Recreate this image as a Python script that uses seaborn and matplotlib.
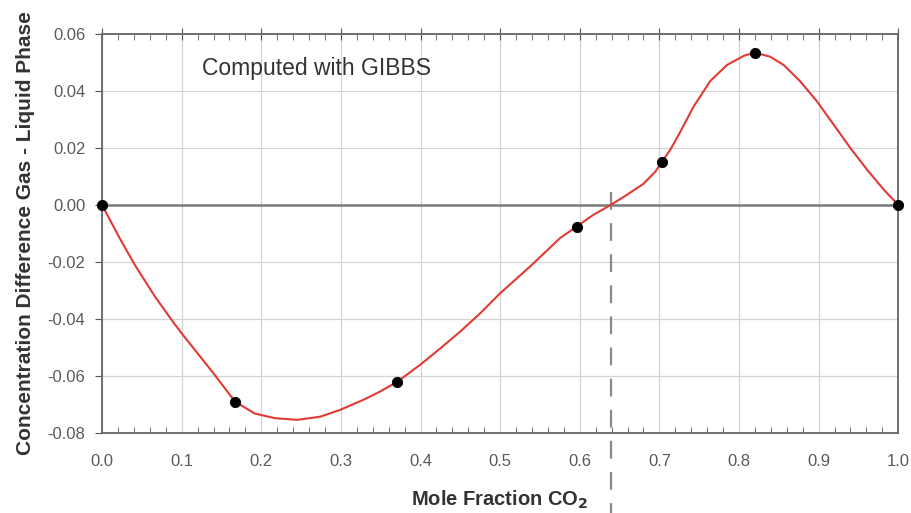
import numpy as np
import pandas as pd
import matplotlib
matplotlib.use("Agg")
import matplotlib.pyplot as plt
from matplotlib.ticker import MultipleLocator
import seaborn as sns

# computed GIBBS points
point_x = [0.0, 0.167, 0.371, 0.596, 0.703, 0.820, 1.0]
point_y = [0.0, -0.069, -0.062, -0.0076, 0.015, 0.0534, 0.0]

# smooth fitted curve
curve_x = [0.0, 0.0226, 0.0415, 0.0666, 0.0896, 0.101, 0.125, 0.142, 0.167, 0.192,
           0.217, 0.245, 0.274, 0.299, 0.328, 0.349, 0.371, 0.3995, 0.425, 0.450,
           0.475, 0.5, 0.54, 0.575, 0.596, 0.617, 0.639, 0.659, 0.680, 0.695,
           0.703, 0.714, 0.726, 0.743, 0.764, 0.785, 0.806, 0.820, 0.839, 0.856,
           0.877, 0.898, 0.919, 0.940, 0.961, 0.982, 1.0]
curve_y = [0.0, -0.0119, -0.0212, -0.0322, -0.0412, -0.0454, -0.0538, -0.0598, -0.069, -0.0732,
           -0.0748, -0.0754, -0.0743, -0.0719, -0.0684, -0.0655, -0.062, -0.0561, -0.0503, -0.0444,
           -0.038, -0.031, -0.021, -0.0117, -0.0076, -0.0035, 0.0, 0.0035, 0.0074, 0.0117,
           0.015, 0.0195, 0.0255, 0.0345, 0.0435, 0.0491, 0.0523, 0.0534, 0.052, 0.0491,
           0.0433, 0.0363, 0.0281, 0.0199, 0.0123, 0.0053, 0.0]

x_ticks = [0.0, 0.1, 0.2, 0.3, 0.4, 0.5, 0.6, 0.7, 0.8, 0.9, 1.0]
y_ticks = [-0.08, -0.06, -0.04, -0.02, 0.0, 0.02, 0.04, 0.06]
critical_x = 0.639

sns.set_style("white")
plt.rcParams['font.family'] = ['Liberation Sans', 'DejaVu Sans']

fig = plt.figure(figsize=(9.11, 5.13), dpi=100)
ax = fig.add_axes([0.112, 0.156, 0.874, 0.778])

curve = pd.DataFrame({'x': curve_x, 'y': curve_y})
points = pd.DataFrame({'x': point_x, 'y': point_y})

ax.grid(True, color='#d4d4d4', linewidth=0.9)
ax.axhline(0, color='#7a7a7a', linewidth=1.8, zorder=2)
sns.lineplot(data=curve, x='x', y='y', sort=False, color='#e23a35', linewidth=1.5, ax=ax, zorder=3)
sns.scatterplot(data=points, x='x', y='y', color='black', s=55, edgecolor='black', ax=ax, zorder=4, clip_on=False)

# dashed line at the critical composition, running below the axes
ax.plot([critical_x, critical_x], [0.0045, -0.115], color='#8a8a8a', linewidth=1.6,
        dashes=(8, 6), clip_on=False, zorder=2)

ax.set_xlim(0, 1.0)
ax.set_ylim(-0.08, 0.06)
ax.set_xticks(x_ticks)
ax.set_yticks(y_ticks)
ax.set_xticklabels([f'{v:.1f}' for v in x_ticks])
ax.set_yticklabels([f'{v:.2f}' for v in y_ticks])
ax.xaxis.set_minor_locator(MultipleLocator(0.02))
ax.tick_params(axis='x', which='minor', direction='in', length=4, top=True, bottom=True, color='#555555')
ax.tick_params(axis='x', which='major', direction='inout', length=8, top=True, color='#555555')
ax.tick_params(axis='y', which='major', direction='out', length=5, left=True, color='#555555')
ax.tick_params(labelsize=12, labelcolor='#5a5a5a', pad=7)
ax.tick_params(axis='x', which='major', pad=11)

for sp in ax.spines.values():
    sp.set_color('#666666')
    sp.set_linewidth(1.3)

ax.set_xlabel('Mole Fraction CO$_\\mathbf{2}$', fontsize=14.5, fontweight='bold', color='#333333', labelpad=14)
ax.set_ylabel('Concentration Difference Gas - Liquid Phase', fontsize=15, fontweight='bold', color='#333333', labelpad=9)

ax.text(0.126, 0.048, 'Computed with GIBBS', fontsize=16.5, color='#333333', va='center')

fig.savefig('out.png', dpi=100)
